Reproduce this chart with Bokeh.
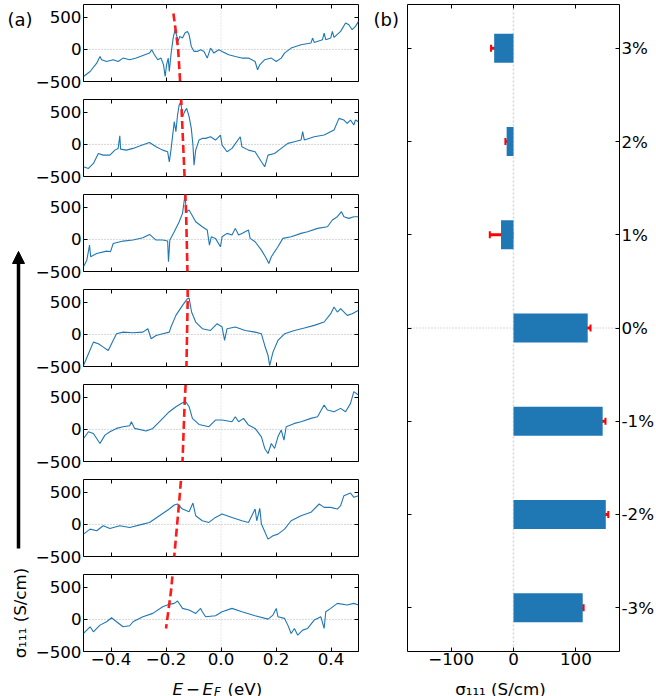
import math
from bokeh.plotting import figure
from bokeh.layouts import row, column
from bokeh.models import (Range1d, FixedTicker, LinearAxis, Arrow, NormalHead,
                          Whisker, TeeHead, Span, ColumnDataSource)
from bokeh.core.properties import value
from bokeh.embed import file_html
from bokeh.resources import INLINE

# ---------------- data ----------------
E1 = [-0.500,-0.476,-0.452,-0.440,-0.434,-0.416,-0.392,-0.374,-0.356,-0.332,-0.308,-0.284,-0.260,-0.252,-0.242,-0.230,-0.218,-0.209,-0.203,-0.198,-0.192,-0.188,-0.182,-0.174,-0.167,-0.162,-0.156,-0.150,-0.140,-0.131,-0.122,-0.116,-0.108,-0.098,-0.086,-0.074,-0.062,-0.050,-0.038,-0.026,-0.008,0.004,0.028,0.052,0.076,0.100,0.124,0.133,0.141,0.159,0.183,0.201,0.219,0.231,0.255,0.291,0.327,0.333,0.339,0.369,0.375,0.381,0.399,0.405,0.411,0.435,0.453,0.465,0.477,0.489,0.500]
S1 = [-422,-344,-214,-110,-160,-188,-160,-188,-135,-160,-135,-94,-57,-5,-83,-160,-135,-240,-422,-240,-135,-344,-83,177,307,230,125,203,177,255,281,230,47,-31,-31,-5,-31,-135,21,-57,-5,-31,-83,-110,-135,-135,-188,-318,-240,-160,-135,-188,-135,-57,21,73,99,177,109,151,255,151,177,281,187,281,411,385,307,359,437]

E2 = [-0.500,-0.482,-0.464,-0.446,-0.428,-0.404,-0.386,-0.374,-0.368,-0.365,-0.344,-0.320,-0.296,-0.260,-0.236,-0.212,-0.194,-0.188,-0.182,-0.170,-0.164,-0.158,-0.152,-0.146,-0.140,-0.132,-0.125,-0.116,-0.108,-0.102,-0.098,-0.092,-0.080,-0.068,-0.056,-0.038,-0.020,-0.002,0.004,0.022,0.040,0.070,0.076,0.100,0.124,0.147,0.159,0.171,0.195,0.219,0.243,0.267,0.291,0.297,0.303,0.339,0.375,0.411,0.429,0.447,0.459,0.471,0.483,0.489,0.500]
S2 = [-349,-375,-297,-141,-167,-167,-89,-62,135,-73,-89,-62,-26,31,-36,-89,-115,-271,-89,354,198,458,615,667,432,511,563,432,250,-10,-323,-89,68,94,94,120,68,146,-10,-115,-62,120,-36,-89,-115,-271,-349,-167,-141,-62,16,42,68,198,68,120,146,224,406,380,328,380,302,380,354]

E3 = [-0.500,-0.488,-0.478,-0.474,-0.452,-0.416,-0.402,-0.392,-0.356,-0.320,-0.284,-0.260,-0.236,-0.212,-0.194,-0.191,-0.186,-0.170,-0.152,-0.140,-0.131,-0.126,-0.116,-0.092,-0.068,-0.050,-0.042,-0.035,-0.020,-0.002,0.004,0.022,0.040,0.052,0.064,0.076,0.100,0.106,0.124,0.147,0.165,0.174,0.183,0.207,0.225,0.255,0.291,0.315,0.351,0.387,0.405,0.423,0.438,0.447,0.465,0.483,0.500]
S3 = [-427,-323,-89,-271,-219,-182,-193,-63,-26,-10,26,78,-10,-10,-26,-349,-10,120,276,406,693,432,458,276,198,146,-89,42,16,-115,42,94,68,172,68,94,146,16,-36,-167,-297,-375,-271,-115,16,42,94,120,172,198,302,354,432,354,328,354,354]

E4 = [-0.500,-0.482,-0.464,-0.446,-0.428,-0.410,-0.398,-0.380,-0.356,-0.320,-0.284,-0.266,-0.254,-0.236,-0.212,-0.188,-0.182,-0.164,-0.140,-0.122,-0.116,-0.107,-0.092,-0.068,-0.038,-0.014,0.004,0.013,0.022,0.052,0.088,0.124,0.147,0.159,0.171,0.177,0.189,0.207,0.231,0.267,0.303,0.339,0.375,0.399,0.411,0.423,0.435,0.459,0.477,0.500]
S4 = [-485,-302,-120,-146,-198,-250,-146,10,36,26,36,89,-68,-16,10,36,115,297,453,557,568,349,193,89,62,167,115,-94,89,115,62,36,10,-172,-328,-485,-276,-94,10,62,99,141,193,323,427,349,401,297,323,375]

E5 = [-0.500,-0.482,-0.464,-0.440,-0.422,-0.404,-0.380,-0.356,-0.332,-0.326,-0.314,-0.272,-0.248,-0.218,-0.188,-0.164,-0.140,-0.128,-0.116,-0.104,-0.080,-0.044,-0.020,0.004,0.040,0.052,0.064,0.082,0.100,0.124,0.147,0.159,0.171,0.183,0.195,0.207,0.219,0.229,0.237,0.267,0.291,0.327,0.351,0.375,0.387,0.411,0.435,0.453,0.471,0.483,0.500]
S5 = [-141,-36,-63,-219,-89,-36,16,42,57,120,16,-26,16,146,276,354,417,432,354,172,78,42,146,146,120,198,120,172,68,16,-115,-297,-375,-219,-297,-115,-10,-167,42,94,120,172,198,380,302,276,328,276,406,589,537]

E6 = [-0.500,-0.476,-0.452,-0.428,-0.404,-0.368,-0.332,-0.284,-0.260,-0.224,-0.188,-0.170,-0.158,-0.140,-0.116,-0.102,-0.092,-0.068,-0.044,-0.020,0.004,0.040,0.076,0.100,0.124,0.130,0.141,0.147,0.171,0.189,0.207,0.231,0.255,0.291,0.327,0.357,0.375,0.399,0.423,0.435,0.447,0.471,0.483,0.500]
S6 = [-151,-73,-99,-21,-63,-21,-47,5,31,135,240,302,318,240,198,333,135,57,31,109,161,109,57,31,240,57,250,5,-229,-177,-151,-73,57,135,188,318,266,266,240,292,448,490,422,448]

E7 = [-0.500,-0.476,-0.464,-0.440,-0.416,-0.398,-0.380,-0.356,-0.332,-0.320,-0.284,-0.248,-0.212,-0.188,-0.170,-0.158,-0.140,-0.116,-0.092,-0.074,-0.068,-0.056,-0.020,0.004,0.040,0.076,0.124,0.171,0.189,0.201,0.207,0.231,0.243,0.255,0.267,0.279,0.297,0.315,0.339,0.363,0.375,0.381,0.399,0.423,0.459,0.483,0.500]
S7 = [-219,-115,-193,-89,-36,26,-36,-115,-99,-36,42,94,198,235,250,286,172,146,94,172,120,42,57,120,172,120,57,5,68,172,42,16,-89,-219,-141,-245,-167,-141,-10,42,-141,120,172,250,224,250,224]

energies = [E1, E2, E3, E4, E5, E6, E7]
sigmas = [S1, S2, S3, S4, S5, S6, S7]

# red dashed guide: knots given in the coordinates of the panel they sit in
red_E = [-0.173, -0.156, -0.145, -0.137, -0.127, -0.122, -0.121, -0.126, -0.132, -0.140, -0.152, -0.173, -0.182, -0.200]
red_S = [560, 15, 715, -64, 435, -500, 560, -578, 435, -500, 357, 840, 435, -141]
red_panel = [0, 0, 1, 1, 2, 2, 3, 3, 4, 4, 5, 6, 6, 6]

# black arrow (tail in panel 6, tip in panel 3), panel-local sigma values
arrow_tail_S, arrow_tail_panel = -375, 5
arrow_tip_S, arrow_tip_panel = -188, 2

# panel (b)
strain_labels = ["-3%", "-2%", "-1%", "0%", "1%", "2%", "3%"]
sigma_mean = [111, 148, 143, 119, -20, -11, -31]
sigma_err = [1.5, 4, 4.5, 4.5, 18, 2, 5]

# ---------------- style / layout ----------------
FONT = "DejaVu Sans"
FS = "16.7px"
BLUE = "#1f77b4"
TOTAL_W, TOTAL_H = 656, 696
XLAB_H = 24                 # strip under the panels holding the x labels
FIG_H = TOTAL_H - XLAB_H    # height of the panel stacks
STRIP_W = 32                # left strip: (a), arrow, y label
FRAME_L = 48
FRAME_W = 278
FIG_W = FRAME_L + FRAME_W + 4
PANEL_H = 77
PITCH = 95
TOP = 4
XMIN, XMAX = -0.5, 0.5
YMIN, YMAX = -500, 700
DPX = (YMAX - YMIN) / PANEL_H          # data units per pixel (y)
PITCH_DATA = PITCH * DPX
MID_W = 42                  # strip holding (b)
RW = TOTAL_W - STRIP_W - FIG_W - MID_W
RB_L, RB_R = 3, 34


def strip(w, h):
    s = figure(width=w, height=h, x_range=Range1d(0, w), y_range=Range1d(h, 0),
               min_border_left=0, min_border_right=0, min_border_top=0, min_border_bottom=0,
               x_axis_location=None, y_axis_location=None,
               toolbar_location=None, output_backend="svg")
    s.grid.visible = False
    s.outline_line_color = None
    s.background_fill_color = None
    s.border_fill_color = None
    return s


def add_axis(p, side, ticks, overrides, show, standoff=3):
    ax = LinearAxis(
        ticker=FixedTicker(ticks=ticks),
        major_tick_in=4, major_tick_out=0,
        major_tick_line_color="black", major_tick_line_width=1,
        minor_tick_line_color=None, axis_line_color=None,
        major_label_text_font=FONT, major_label_text_font_size=FS,
        major_label_text_color="black",
        major_label_standoff=standoff if show else 0,
        major_label_overrides=overrides if show else {t: "" for t in ticks},
    )
    p.add_layout(ax, side)


def add_text(s, x, y, txt, size=FS, style="normal", align="left", baseline="middle", angle=0.0):
    s.text(x=[x], y=[y], text=[txt], angle=angle,
           text_font=value(FONT), text_font_size=value(size), text_font_style=value(style),
           text_align=value(align), text_baseline=value(baseline), text_color="black")


xticks = [-0.4, -0.2, 0.0, 0.2, 0.4]
xlabels = {-0.4: "\u22120.4", -0.2: "\u22120.2", 0.0: "0.0", 0.2: "0.2", 0.4: "0.4"}
yticks = [-500, 0, 500]
ylabels = {-500: "\u2212500", 0: "0", 500: "500"}

figs = []
n = len(energies)
for i in range(n):
    last = (i == n - 1)
    h = PITCH if not last else FIG_H - PITCH * (n - 1)
    p = figure(width=FIG_W, height=h,
               x_range=Range1d(XMIN, XMAX), y_range=Range1d(YMIN, YMAX),
               min_border_left=FRAME_L, min_border_right=FIG_W - FRAME_L - FRAME_W,
               min_border_top=TOP, min_border_bottom=h - TOP - PANEL_H,
               x_axis_location=None, y_axis_location=None,
               toolbar_location=None, output_backend="svg")
    p.grid.visible = False
    p.outline_line_color = "black"
    p.outline_line_width = 1
    p.background_fill_color = None
    p.border_fill_color = None

    p.add_layout(Span(location=0, dimension="height", line_color="#cccccc",
                      line_dash="1 2", line_width=1, level="underlay"))
    p.add_layout(Span(location=0, dimension="width", line_color="#999999",
                      line_dash="1 2", line_width=0.8, level="underlay"))

    p.line(energies[i], sigmas[i], line_color=BLUE, line_width=1.1)

    # red dashed guide, expressed in this panel's coordinates
    ry = [s - (k - i) * PITCH_DATA for s, k in zip(red_S, red_panel)]
    p.line(red_E, ry, line_color="#ff1a1a", line_width=2.6, line_dash="8 4")

    add_axis(p, "left", yticks, ylabels, True, standoff=2)
    add_axis(p, "right", yticks, ylabels, False)
    add_axis(p, "above", xticks, xlabels, False)
    add_axis(p, "below", xticks, xlabels, last, standoff=1)
    figs.append(p)


def panel_y(k, s):
    return TOP + PITCH * k + (YMAX - s) / DPX


# left strip: (a), the black arrow, the y label
sl = strip(STRIP_W, FIG_H)
add_text(sl, 7, 19, "(a)", size="18px")
sl.add_layout(Arrow(x_start=18, y_start=panel_y(arrow_tail_panel, arrow_tail_S),
                    x_end=18, y_end=panel_y(arrow_tip_panel, arrow_tip_S),
                    line_color="black", line_width=3.5,
                    end=NormalHead(size=12, fill_color="black", line_color="black", line_width=1)))
add_text(sl, 19, TOP + PITCH * (n - 1) + PANEL_H / 2, "\u03c3\u2081\u2081\u2081 (S/cm)",
         align="center", baseline="middle", angle=math.pi / 2)

# x label of panel (a)
sb = strip(STRIP_W + FIG_W, XLAB_H)
cx = STRIP_W + FRAME_L + FRAME_W / 2
base = 16.8
for txt, dx, dy, size, style in [("E", -47, 0, FS, "italic"),
                                  ("\u2212", -33.5, 0, FS, "normal"),
                                  ("E", -17, 0, FS, "italic"),
                                  ("F", -5.5, 2.2, "11.7px", "italic"),
                                  ("(eV)", 8, 0, FS, "normal")]:
    add_text(sb, cx + dx, base + dy, txt, size=size, style=style, baseline="alphabetic")

# middle strip: (b)
sm = strip(MID_W, TOTAL_H)
add_text(sm, 11, 19, "(b)", size="18px")

# ---------------- panel (b) ----------------
RXMIN, RXMAX = -170, 170
RYMIN, RYMAX = -0.47, 6.47
R_BOTTOM = FIG_H - (TOP + PITCH * (n - 1) + PANEL_H)

pr = figure(width=RW, height=FIG_H,
            x_range=Range1d(RXMIN, RXMAX), y_range=Range1d(RYMIN, RYMAX),
            min_border_left=RB_L, min_border_right=RB_R,
            min_border_top=TOP, min_border_bottom=R_BOTTOM,
            x_axis_location=None, y_axis_location=None,
            toolbar_location=None, output_backend="svg")
pr.grid.visible = False
pr.outline_line_color = "black"
pr.outline_line_width = 1
pr.background_fill_color = None
pr.border_fill_color = None

pr.add_layout(Span(location=0, dimension="height", line_color="#d6d6d6",
                   line_dash="2 2", line_width=1.5, level="underlay"))
pr.add_layout(Span(location=3, dimension="width", line_color="#a0a0a0",
                   line_dash="1 2", line_width=0.8, level="underlay"))

idx = list(range(len(strain_labels)))
src = ColumnDataSource(dict(
    y=idx, v=sigma_mean,
    lower=[m - e for m, e in zip(sigma_mean, sigma_err)],
    upper=[m + e for m, e in zip(sigma_mean, sigma_err)]))
pr.hbar(y="y", left=0, right="v", height=0.31, source=src,
        fill_color=BLUE, line_color=None)
pr.add_layout(Whisker(source=src, base="y", lower="lower", upper="upper", dimension="width",
                      line_color="red", line_width=3,
                      lower_head=TeeHead(size=7, line_color="red", line_width=2),
                      upper_head=TeeHead(size=7, line_color="red", line_width=2)))

rticks = [-100, 0, 100]
rlabels = {-100: "\u2212100", 0: "0", 100: "100"}
add_axis(pr, "below", rticks, rlabels, True, standoff=1)
add_axis(pr, "above", rticks, rlabels, False)
add_axis(pr, "left", idx, {k: s for k, s in zip(idx, strain_labels)}, False)
add_axis(pr, "right", idx, {k: s for k, s in zip(idx, strain_labels)}, True, standoff=2)

# x label of panel (b)
sr = strip(RW, XLAB_H)
add_text(sr, RB_L + (RW - RB_L - RB_R) / 2, base, "\u03c3\u2081\u2081\u2081 (S/cm)",
         align="center", baseline="alphabetic")

layout = row(column(row(sl, column(*figs)), sb), sm, column(pr, sr))
open("out.html", "w").write(file_html(layout, INLINE, title="sigma111"))
